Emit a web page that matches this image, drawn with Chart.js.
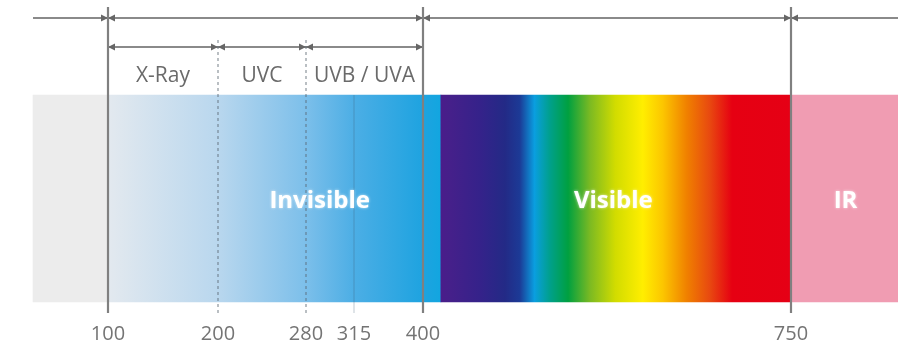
<!DOCTYPE html>
<html>
<head>
<meta charset="utf-8">
<script src="https://cdn.jsdelivr.net/npm/chart.js@4.4.1/dist/chart.umd.min.js"></script>
<style>
  html, body { margin: 0; padding: 0; background: #fff; }
  #wrap { width: 898px; height: 350px; }
</style>
</head>
<body>
<div id="wrap"><canvas id="spectrum"></canvas></div>
<script>
// wavelengths in nm
const tickValues = [100, 200, 280, 315, 400, 750];
const mainBounds = [100, 400, 750];
const subBounds = [200, 280];
const minorBounds = [315];

// coloured bands
const bandStarts = [30, 100, 417, 750];
const bandEnds = [100, 417, 750, 850];
const bandNames = ['', 'Invisible', 'Visible', 'IR'];
const bandLabelNm = [null, 290, 581, 801];

// colour stops inside the bands (nm -> colour)
const invisibleStopsNm = [100, 200, 280, 315, 400, 417];
const invisibleColors = ['#e3e9ef', '#b9d7ee', '#7cbfea', '#4caee5', '#1ea3e0', '#12a6e0'];
const visibleStopsNm = [417, 426, 454, 478, 492, 506, 521, 538, 559, 583, 609, 628, 651, 673, 694, 750];
const visibleColors = ['#4a1d8a', '#45208a', '#35228a', '#232a86', '#1c3a96', '#0a9ee0', '#00a08a', '#00a040',
  '#7cba22', '#d2dc00', '#ffee00', '#fcc600', '#f08000', '#e84810', '#e60012', '#e50015'];
const greyColor = '#ececec';
const irColor = '#f09cb2';

// range arrows
const topArrowRanges = [[30, 100], [100, 400], [400, 750], [750, 850]];
const subArrowRanges = [[100, 200], [200, 280], [280, 400]];
const subLabels = ['X-Ray', 'UVC', 'UVB / UVA'];

// vertical layout (y scale runs in pixels, top = 0)
const ROW = { lineTop: 7, topArrow: 18, subLineTop: 40, subArrow: 47, subLabel: 76,
  bandTop: 95, bandBottom: 302, bandLabel: 201, lineBottom: 313 };

// non linear wavelength axis, the drawing is not to scale
const knotNm = [0, 30, 100, 200, 280, 315, 400, 750, 850];
const knotPos = [0, 33, 108, 218, 306, 354, 423, 791, 898].map(p => p / 898);

class SpectrumScale extends Chart.LinearScale {
  getPixelForValue(value) {
    let i = 1;
    while (i < knotNm.length - 1 && value > knotNm[i]) i++;
    const t = (value - knotNm[i - 1]) / (knotNm[i] - knotNm[i - 1]);
    return this.getPixelForDecimal(knotPos[i - 1] + t * (knotPos[i] - knotPos[i - 1]));
  }
  getValueForPixel(pixel) {
    const d = this.getDecimalForPixel(pixel);
    let i = 1;
    while (i < knotPos.length - 1 && d > knotPos[i]) i++;
    const t = (d - knotPos[i - 1]) / (knotPos[i] - knotPos[i - 1]);
    return knotNm[i - 1] + t * (knotNm[i] - knotNm[i - 1]);
  }
}
SpectrumScale.id = 'spectrum';
SpectrumScale.defaults = Chart.LinearScale.defaults;
Chart.register(SpectrumScale);

function arrowHead() {
  const c = document.createElement('canvas');
  c.width = 16; c.height = 10;
  const g = c.getContext('2d');
  g.fillStyle = '#666666';
  g.beginPath();
  g.moveTo(1, 1.5); g.lineTo(8, 5); g.lineTo(1, 8.5);
  g.closePath();
  g.fill();
  return c;
}
const arrow = arrowHead();

function bandFill(ctx) {
  const chart = ctx.chart;
  const i = ctx.dataIndex;
  if (!chart.chartArea) return greyColor;
  if (i === 0) return greyColor;
  if (i === 3) return irColor;
  const x = chart.scales.x;
  const stops = i === 1 ? invisibleStopsNm : visibleStopsNm;
  const cols = i === 1 ? invisibleColors : visibleColors;
  const x0 = x.getPixelForValue(bandStarts[i]);
  const x1 = x.getPixelForValue(bandEnds[i]);
  const grad = chart.ctx.createLinearGradient(x0, 0, x1, 0);
  stops.forEach((nm, k) => {
    const f = (x.getPixelForValue(nm) - x0) / (x1 - x0);
    grad.addColorStop(Math.min(1, Math.max(0, f)), cols[k]);
  });
  return grad;
}

function vline(nm, top, style) {
  return Object.assign({
    type: 'line',
    data: [{ x: nm, y: top }, { x: nm, y: ROW.lineBottom }],
    pointRadius: 0,
    order: 1
  }, style);
}

function arrowLine(range, y) {
  const ends = range.map(v => tickValues.includes(v));
  return {
    type: 'line',
    data: [{ x: range[0], y: y }, { x: range[1], y: y }],
    borderColor: '#8a8a8a',
    borderWidth: 2.2,
    pointStyle: arrow,
    pointRotation: [180, 0],
    pointRadius: ends.map(e => e ? 4 : 0),
    order: 2
  };
}

const datasets = [
  ...mainBounds.map(v => vline(v, ROW.lineTop, { borderColor: '#808080', borderWidth: 2.2 })),
  ...subBounds.map(v => vline(v, ROW.subLineTop, { borderColor: 'rgba(90,100,110,0.55)', borderWidth: 1.5, borderDash: [3, 3] })),
  ...minorBounds.map(v => vline(v, ROW.bandTop, { borderColor: 'rgba(60,90,120,0.28)', borderWidth: 1.2 })),
  ...topArrowRanges.map(r => arrowLine(r, ROW.topArrow)),
  ...subArrowRanges.map(r => arrowLine(r, ROW.subArrow)),
  {
    type: 'bar',
    indexAxis: 'y',
    data: bandStarts.map((s, i) => ({ x: [s, bandEnds[i]], y: (ROW.bandTop + ROW.bandBottom) / 2 })),
    barThickness: ROW.bandBottom - ROW.bandTop,
    backgroundColor: bandFill,
    borderWidth: 0,
    grouped: false,
    order: 10
  }
];

const textPlugin = {
  id: 'spectrumText',
  afterDatasetsDraw(chart) {
    const { ctx } = chart;
    const x = chart.scales.x, y = chart.scales.y;
    ctx.save();
    ctx.textAlign = 'center';
    ctx.textBaseline = 'middle';
    ctx.font = '21px "Open Sans"';
    ctx.fillStyle = '#6a6a6a';
    subArrowRanges.forEach((r, i) => {
      const cx = (x.getPixelForValue(r[0]) + x.getPixelForValue(r[1])) / 2;
      ctx.fillText(subLabels[i], cx, y.getPixelForValue(ROW.subLabel));
    });
    ctx.font = 'bold 24px "Open Sans"';
    ctx.fillStyle = '#ffffff';
    ctx.shadowColor = 'rgba(255,255,255,0.7)';
    ctx.shadowBlur = 3;
    bandNames.forEach((name, i) => {
      if (!name) return;
      ctx.fillText(name, x.getPixelForValue(bandLabelNm[i]), y.getPixelForValue(ROW.bandLabel));
    });
    ctx.restore();
  }
};

new Chart(document.getElementById('spectrum'), {
  data: { datasets },
  options: {
    responsive: true,
    maintainAspectRatio: false,
    animation: false,
    events: [],
    layout: { autoPadding: false, padding: { left: 0, right: 0, top: 0, bottom: 4 } },
    plugins: { legend: { display: false }, tooltip: { enabled: false } },
    scales: {
      x: {
        type: 'spectrum',
        min: 0,
        max: 850,
        offset: false,
        grid: { display: false, drawTicks: false },
        border: { display: false },
        afterBuildTicks: s => { s.ticks = tickValues.map(v => ({ value: v })); },
        ticks: {
          autoSkip: false,
          maxRotation: 0,
          padding: 0,
          color: '#747474',
          font: { family: 'Open Sans', size: 20 },
          callback: v => String(v)
        }
      },
      y: {
        type: 'linear',
        min: 0,
        max: 322,
        reverse: true,
        offset: false,
        display: false
      }
    }
  },
  plugins: [textPlugin]
});
</script>
</body>
</html>
